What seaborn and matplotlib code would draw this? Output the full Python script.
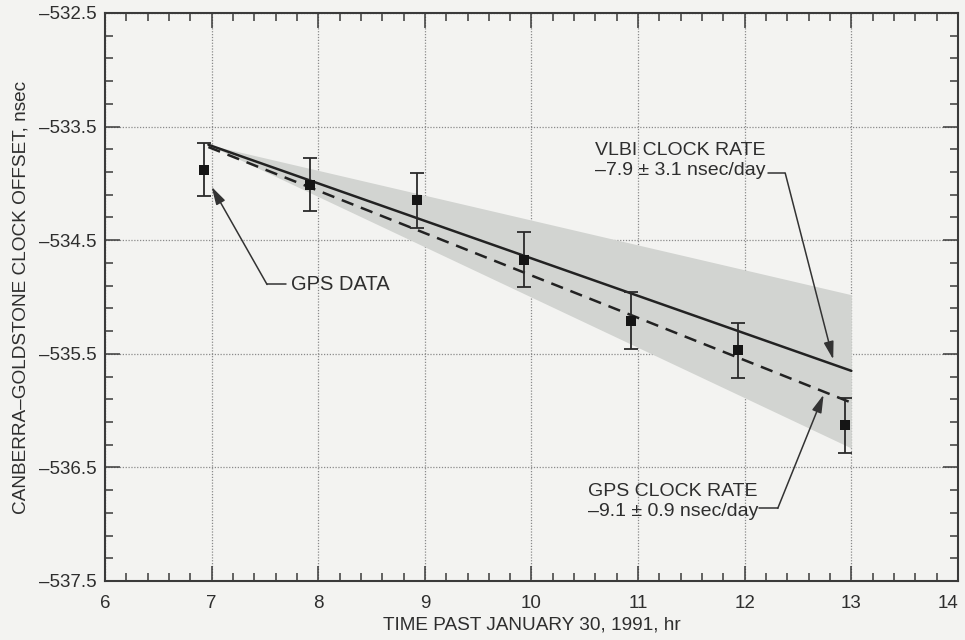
import numpy as np
import pandas as pd
import matplotlib
matplotlib.use("Agg")
import matplotlib.pyplot as plt
from matplotlib.ticker import FixedLocator
import seaborn as sns

# ---- data ----
gps_time = [6.93, 7.92, 8.93, 9.93, 10.93, 11.94, 12.94]
gps_offset = [-533.88, -534.01, -534.15, -534.67, -535.21, -535.47, -536.13]
gps_err = [0.235, 0.23, 0.24, 0.24, 0.25, 0.245, 0.24]

fit_time = [6.97, 13.0]
vlbi_fit = [-533.66, -535.65]
gps_fit = [-533.68, -535.93]
shade_upper = [-533.66, -534.98]
shade_lower = [-533.66, -536.33]

x_ticks = [6, 7, 8, 9, 10, 11, 12, 13, 14]
y_ticks = [-537.5, -536.5, -535.5, -534.5, -533.5, -532.5]

# ---- style ----
sns.set_theme(style="ticks")
plt.rcParams["font.family"] = ["Liberation Sans", "DejaVu Sans"]
txt = "#2e2e2e"
bg = "#f3f3f1"

fig = plt.figure(figsize=(9.65, 6.4), dpi=100, facecolor=bg)
ax = fig.add_axes([0.1088, 0.0922, 0.8839, 0.8875])
ax.set_facecolor(bg)

# shaded VLBI uncertainty band
ax.fill_between(fit_time, shade_lower, shade_upper, color="#d2d4d1", linewidth=0, zorder=1)

fits = pd.DataFrame({"time": fit_time * 2,
                     "offset": vlbi_fit + gps_fit,
                     "fit": ["VLBI"] * 2 + ["GPS"] * 2})
sns.lineplot(data=fits, x="time", y="offset", style="fit",
             dashes={"VLBI": "", "GPS": (5, 3.2)}, color="#222222",
             linewidth=1.8, legend=False, ax=ax, zorder=3)

ax.errorbar(gps_time, gps_offset, yerr=gps_err, fmt="none", ecolor="#2a2a2a",
            elinewidth=1.3, capsize=5, capthick=1.3, zorder=4)
pts = pd.DataFrame({"time": gps_time, "offset": gps_offset})
sns.scatterplot(data=pts, x="time", y="offset", marker="s", s=58, color="#151515",
                edgecolor="#151515", linewidth=0, ax=ax, zorder=5)

# axes, ticks, grid
ax.set_xlim(6, 14)
ax.set_ylim(-537.5, -532.5)
ax.set_xticks(x_ticks)
ax.set_yticks(y_ticks)
ax.set_xticklabels([str(v) for v in x_ticks])
ax.set_yticklabels([f"\u2013{abs(v):.1f}" for v in y_ticks])
ax.get_xticklabels()[-1].set_horizontalalignment("right")
ax.xaxis.set_minor_locator(FixedLocator(np.arange(6, 14.001, 0.2)))
ax.yaxis.set_minor_locator(FixedLocator(np.arange(-537.5, -532.499, 0.2)))
ax.tick_params(which="both", direction="in", top=True, right=True, colors="#3a3a3a",
               labelcolor=txt, width=1.1)
ax.tick_params(which="major", length=11, labelsize=13.5)
ax.tick_params(axis="x", which="major", pad=10)
ax.tick_params(axis="y", which="major", pad=6)
ax.tick_params(which="minor", length=6)
ax.grid(True, which="major", linestyle=(0, (1, 1.3)), color="#8a8a8a", linewidth=0.9)
for s in ax.spines.values():
    s.set_color("#3a3a3a")
    s.set_linewidth(1.5)

ax.set_xlabel("TIME PAST JANUARY 30, 1991, hr", fontsize=13.7, color=txt, labelpad=3)
ax.set_ylabel("CANBERRA\u2013GOLDSTONE CLOCK OFFSET, nsec", fontsize=13.7, color=txt,
              labelpad=7)

# annotations
lc = "#333333"
arrow = dict(arrowstyle="-|>,head_length=0.9,head_width=0.25", color=lc, lw=1.1,
             shrinkA=0, shrinkB=0)

ax.text(7.74, -534.89, "GPS DATA", fontsize=14.5, color=txt, ha="left", va="center")
ax.plot([7.52, 7.70], [-534.89, -534.89], color=lc, lw=1.1)
ax.annotate("", xy=(7.0, -534.03), xytext=(7.52, -534.89), arrowprops=arrow)

ax.text(10.60, -533.80, "VLBI CLOCK RATE\n\u20137.9 \u00b1 3.1 nsec/day", fontsize=14,
        color=txt, ha="left", va="center", linespacing=1.2)
ax.plot([12.22, 12.38], [-533.91, -533.91], color=lc, lw=1.1)
ax.annotate("", xy=(12.83, -535.55), xytext=(12.38, -533.91), arrowprops=arrow)

ax.text(10.53, -536.80, "GPS CLOCK RATE\n\u20139.1 \u00b1 0.9 nsec/day", fontsize=14,
        color=txt, ha="left", va="center", linespacing=1.2)
ax.plot([12.13, 12.31], [-536.86, -536.86], color=lc, lw=1.1)
ax.annotate("", xy=(12.74, -535.86), xytext=(12.31, -536.86), arrowprops=arrow)

fig.savefig("out.png", dpi=100, facecolor=bg)
